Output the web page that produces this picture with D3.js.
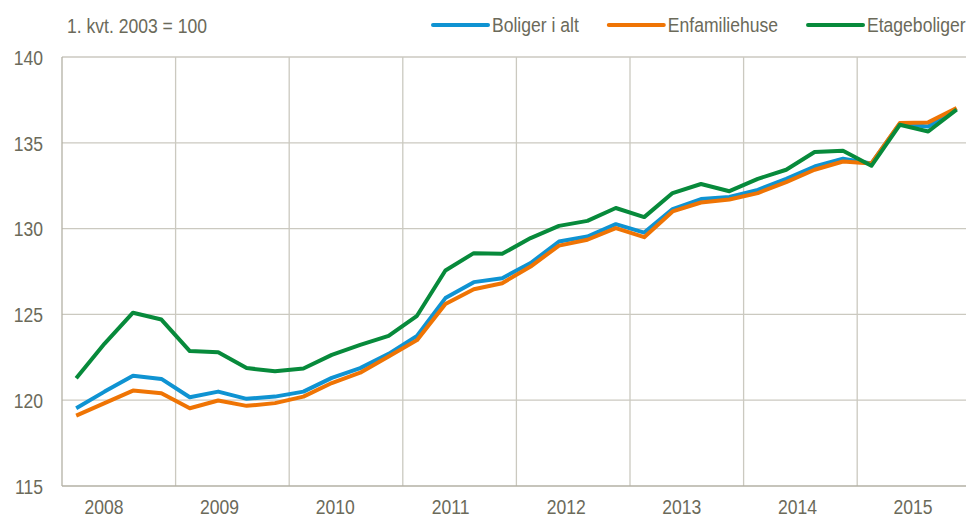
<!DOCTYPE html>
<html>
<head>
<meta charset="utf-8">
<script src="https://cdn.jsdelivr.net/npm/d3@7"></script>
<style>
  html, body { margin: 0; padding: 0; background: #fff; }
  svg { display: block; font-family: 'Liberation Sans', Arial, sans-serif; }
</style>
</head>
<body>
<div id="chart"></div>
<script>
const years = ['2008', '2009', '2010', '2011', '2012', '2013', '2014', '2015'];
const quarters = years.flatMap((y) => [1, 2, 3, 4].map((q) => `${y}K${q}`));

const boligerIAlt = [
  119.53, 120.5, 121.42, 121.24,
  120.17, 120.5, 120.08, 120.21,
  120.5, 121.3, 121.87, 122.7,
  123.75, 125.95, 126.88, 127.11,
  127.99, 129.25, 129.54, 130.26,
  129.77, 131.14, 131.72, 131.84,
  132.26, 132.9, 133.62, 134.07,
  133.8, 136.1, 135.95, 137.0,
];

const enfamiliehuse = [
  119.1, 119.83, 120.56, 120.41,
  119.53, 119.98, 119.67, 119.83,
  120.21, 121.0, 121.6, 122.54,
  123.5, 125.6, 126.47, 126.82,
  127.79, 129.01, 129.35, 130.03,
  129.5, 131.0, 131.52, 131.7,
  132.07, 132.71, 133.43, 133.91,
  133.8, 136.15, 136.19, 137.03,
];

const etageboliger = [
  121.28, 123.3, 125.1, 124.7,
  122.86, 122.8, 121.87, 121.69,
  121.85, 122.64, 123.22, 123.75,
  124.92, 127.56, 128.57, 128.53,
  129.45, 130.16, 130.45, 131.2,
  130.67, 132.07, 132.6, 132.18,
  132.9, 133.43, 134.46, 134.54,
  133.66, 136.05, 135.66, 136.93,
];

const yTicks = [115, 120, 125, 130, 135, 140];

const series = [
  { name: 'Boliger i alt', values: boligerIAlt, color: '#0f93d2' },
  { name: 'Enfamiliehuse', values: enfamiliehuse, color: '#ef7404' },
  { name: 'Etageboliger', values: etageboliger, color: '#078a3b' },
];

const width = 966;
const height = 518;
const margin = { top: 57, left: 62, bottom: 32 };
const yearWidth = 113.6;
const textColor = '#6b6a5a';
const squeeze = 0.9;

const svg = d3
  .select('#chart')
  .append('svg')
  .attr('width', width)
  .attr('height', height);

const x0 = margin.left;
const x1 = margin.left + yearWidth * years.length; // runs past the right edge, as in the original
const yTop = margin.top;
const yBottom = height - margin.bottom;

const xYear = d3.scaleBand().domain(years).range([x0, x1]);
const xQuarter = d3.scaleBand().domain(quarters).range([x0, x1]);
const y = d3.scaleLinear().domain([115, 140]).range([yBottom, yTop]);
// year labels sit slightly left of the band centres in the original
const xLabel = d3.scalePoint().domain(years).range([104, 913]);

function label(sel, x, yy) {
  return sel
    .attr('transform', `translate(${x},${yy}) scale(${squeeze},1)`)
    .attr('fill', textColor)
    .style('font-size', '19.5px');
}

// horizontal grid
svg
  .append('g')
  .selectAll('line')
  .data(yTicks.filter((t) => t > 115))
  .join('line')
  .attr('x1', x0)
  .attr('x2', x1)
  .attr('y1', (d) => y(d))
  .attr('y2', (d) => y(d))
  .attr('stroke', '#cbc9c0')
  .attr('stroke-width', 1.3);

// vertical grid at year boundaries
svg
  .append('g')
  .selectAll('line')
  .data(years.slice(1))
  .join('line')
  .attr('x1', (d) => xYear(d))
  .attr('x2', (d) => xYear(d))
  .attr('y1', yTop)
  .attr('y2', yBottom)
  .attr('stroke', '#cbc9c0')
  .attr('stroke-width', 1.3);

// axes lines
svg
  .append('line')
  .attr('x1', x0)
  .attr('x2', x0)
  .attr('y1', yTop)
  .attr('y2', yBottom)
  .attr('stroke', '#b3b1a5')
  .attr('stroke-width', 1.3);

svg
  .append('line')
  .attr('x1', x0)
  .attr('x2', x1)
  .attr('y1', yBottom)
  .attr('y2', yBottom)
  .attr('stroke', '#b3b1a5')
  .attr('stroke-width', 1.5);

// y tick labels
svg
  .append('g')
  .selectAll('text')
  .data(yTicks)
  .join('text')
  .each(function (d) {
    label(d3.select(this), 43, y(d) + 1);
  })
  .attr('text-anchor', 'end')
  .attr('dy', '0.35em')
  .text((d) => d);

// x tick labels
svg
  .append('g')
  .selectAll('text')
  .data(years)
  .join('text')
  .each(function (d) {
    label(d3.select(this), xLabel(d), 507);
  })
  .attr('text-anchor', 'middle')
  .attr('dy', '0.35em')
  .text((d) => d);

// unit note
label(svg.append('text'), 67, 26).attr('dy', '0.35em').text('1. kvt. 2003 = 100');

// lines
const line = d3
  .line()
  .x((d, i) => xQuarter(quarters[i]) + xQuarter.bandwidth() / 2)
  .y((d) => y(d));

svg
  .append('g')
  .selectAll('path')
  .data(series)
  .join('path')
  .attr('d', (d) => line(d.values))
  .attr('fill', 'none')
  .attr('stroke', (d) => d.color)
  .attr('stroke-width', 4)
  .attr('stroke-linejoin', 'round');

// legend
const legend = svg.append('g');
let lx = 433;
series.forEach((s) => {
  legend
    .append('line')
    .attr('x1', lx)
    .attr('x2', lx + 55)
    .attr('y1', 25)
    .attr('y2', 25)
    .attr('stroke', s.color)
    .attr('stroke-width', 4)
    .attr('stroke-linecap', 'round');
  const t = label(legend.append('text'), lx + 59, 25).attr('dy', '0.35em').text(s.name);
  lx += 59 + t.node().getComputedTextLength() * squeeze + 30;
});
</script>
</body>
</html>
